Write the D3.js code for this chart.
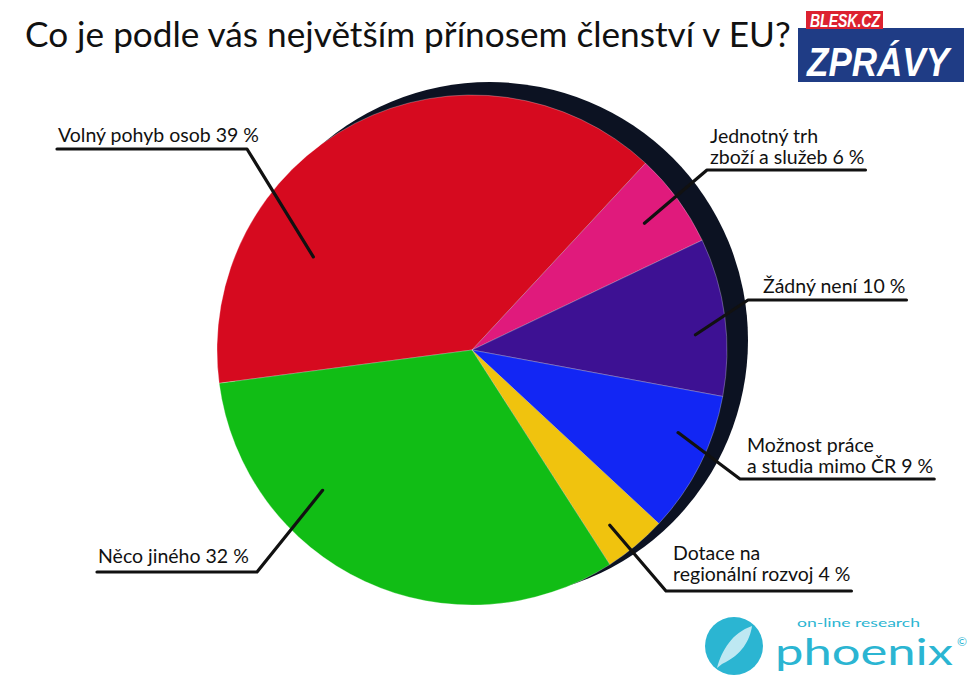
<!DOCTYPE html>
<html>
<head>
<meta charset="utf-8">
<script src="https://cdn.jsdelivr.net/npm/d3@7"></script>
<style>
    body { margin: 0; background: #fff; }
    svg { display: block; }
    text { font-family: Lato, "Open Sans", sans-serif; fill: #111; }
</style>
</head>
<body>
<div id="view"></div>
<script>
var TITLE = 'Co je podle vás největším přínosem členství v EU?';

var categories = [
    'Volný pohyb osob',
    'Jednotný trh zboží a služeb',
    'Žádný není',
    'Možnost práce a studia mimo ČR',
    'Dotace na regionální rozvoj',
    'Něco jiného',
];
var values = [39, 6, 10, 9, 4, 32];
var labelLines = [
    ['Volný pohyb osob 39 %'],
    ['Jednotný trh', 'zboží a služeb 6 %'],
    ['Žádný není 10 %'],
    ['Možnost práce', 'a studia mimo ČR 9 %'],
    ['Dotace na', 'regionální rozvoj 4 %'],
    ['Něco jiného 32 %'],
];
var colors = ['#d60a1f', '#e01a7c', '#3d1193', '#1226f4', '#f0c30e', '#11bd15'];

// label layout: where the text sits and where the leader enters the slice
var labelLayout = [
    {x: 58, y: 142, side: 'left', elbow: 247, under: 149, t: 0.27, r: 184},
    {x: 710, y: 143, side: 'right', elbow: 707, under: 170, t: 0.5, r: 214},
    {x: 763, y: 293, side: 'right', elbow: 748, under: 300, t: 0.6, r: 224},
    {x: 747, y: 452, side: 'right', elbow: 740, under: 479, t: 0.35, r: 222},
    {x: 673, y: 560, side: 'right', elbow: 666, under: 591, t: 0.62, r: 223},
    {x: 98, y: 563, side: 'left', elbow: 257, under: 572, t: 0.69, r: 205},
];

var W = 978, H = 679;
var cx = 472, cy = 350, R = 255;
var START = -97.5 * Math.PI / 180;

var svg = d3.select('#view').append('svg')
    .attr('width', W)
    .attr('height', H);

svg.append('text')
    .attr('x', 25)
    .attr('y', 47)
    .style('font-size', '35.2px')
    .text(TITLE);

// pie
var pie = d3.pie().sort(null).value(d => d)
    .startAngle(START).endAngle(START + 2 * Math.PI);
var arcs = pie(values);
var arc = d3.arc().innerRadius(0).outerRadius(R);

var g = svg.append('g').attr('transform', `translate(${cx},${cy})`);

g.append('circle')
    .attr('class', 'shadow')
    .attr('cx', 18)
    .attr('cy', -10)
    .attr('r', R + 3)
    .attr('fill', '#0c1222');

g.selectAll('path.slice')
    .data(arcs)
    .enter()
    .append('path')
    .attr('class', 'slice')
    .attr('d', arc)
    .attr('fill', (d, i) => colors[i])
    .attr('stroke', 'rgba(255,255,255,0.35)')
    .attr('stroke-width', 0.8);

// labels with leader lines
var labels = svg.selectAll('g.label')
    .data(arcs)
    .enter()
    .append('g')
    .attr('class', 'label');

labels.each(function(d, i) {
    var sel = d3.select(this);
    var lay = labelLayout[i];
    var text = sel.append('text')
        .attr('x', lay.x)
        .attr('y', lay.y)
        .style('font-size', '19.5px');
    labelLines[i].forEach((line, j) => {
        text.append('tspan')
            .attr('x', lay.x)
            .attr('dy', j === 0 ? 0 : 21)
            .text(line);
    });
    var box = text.node().getBBox();
    var a = d.startAngle + (d.endAngle - d.startAngle) * lay.t;
    var end = [cx + lay.r * Math.sin(a), cy - lay.r * Math.cos(a)];
    var far = lay.side === 'left' ? box.x - 1 : box.x + box.width + 1;
    var pts = [[far, lay.under], [lay.elbow, lay.under], end];
    sel.append('path')
        .attr('d', d3.line()(pts))
        .attr('fill', 'none')
        .attr('stroke', '#111')
        .attr('stroke-width', 3.2)
        .attr('stroke-linejoin', 'round')
        .attr('stroke-linecap', 'round');
});

// blesk.cz logo
var logo = svg.append('g').attr('class', 'blesk');
logo.append('rect')
    .attr('x', 798).attr('y', 28).attr('width', 166).attr('height', 54)
    .attr('fill', '#1f3c85');
logo.append('rect')
    .attr('x', 806).attr('y', 11).attr('width', 77).attr('height', 18)
    .attr('fill', '#dc2230');
logo.append('text')
    .attr('x', 810).attr('y', 27)
    .attr('textLength', 70).attr('lengthAdjust', 'spacingAndGlyphs')
    .style('font-family', '"Liberation Sans Narrow", "Liberation Sans", sans-serif')
    .style('font-weight', 'bold').style('font-style', 'italic')
    .style('font-size', '18px').style('fill', '#fff')
    .text('BLESK.CZ');
logo.append('text')
    .attr('x', 807).attr('y', 76)
    .attr('textLength', 142).attr('lengthAdjust', 'spacingAndGlyphs')
    .style('font-family', '"Liberation Sans Narrow", "Liberation Sans", sans-serif')
    .style('font-weight', 'bold').style('font-style', 'italic')
    .style('font-size', '40px').style('fill', '#fff')
    .text('ZPRÁVY');

// phoenix logo
var ph = svg.append('g').attr('class', 'phoenix');
ph.append('circle')
    .attr('cx', 734).attr('cy', 646).attr('r', 29)
    .attr('fill', '#2bb5d2');
ph.append('path')
    .attr('d', 'M717,668 C722,650 732,633 752,626 C750,640 742,655 722,664 Z')
    .attr('fill', '#d8f1f8')
    .attr('opacity', 0.85);
ph.append('text')
    .attr('x', 797).attr('y', 627)
    .attr('textLength', 123).attr('lengthAdjust', 'spacingAndGlyphs')
    .style('font-size', '11px').style('fill', '#2bb5d2')
    .text('on-line research');
ph.append('text')
    .attr('x', 775).attr('y', 665)
    .attr('textLength', 178).attr('lengthAdjust', 'spacingAndGlyphs')
    .style('font-size', '36px').style('fill', '#2bb5d2')
    .text('phoenix');
ph.append('text')
    .attr('x', 957).attr('y', 646)
    .style('font-size', '12px').style('fill', '#2bb5d2')
    .text('©');
</script>
</body>
</html>
